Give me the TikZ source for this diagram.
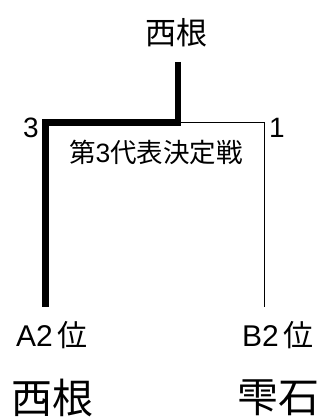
\documentclass[tikz,border=0pt]{standalone}
\usepackage{fontspec}
\setmainfont{Noto Sans CJK JP}
\newfontfamily\latinfont{Liberation Sans}
\usepackage{tikz}

\begin{document}
\begin{tikzpicture}[x=1pt, y=-1pt,
		lbl/.style={inner sep=0pt, font=\fontsize{30}{30}\selectfont},
		team/.style={inner sep=0pt, font=\fontsize{41}{41}\selectfont},
		score/.style={inner sep=0pt, font=\latinfont\fontsize{28}{28}\selectfont},
		win/.style={line width=6.5pt},
		lose/.style={line width=1pt}]
			\useasboundingbox (0,0) rectangle (321,419);
			\node (top) at (176,33) [inner sep=0pt, font=\fontsize{31}{31}\selectfont] {西根};
			\node (title) at (156,152) [inner sep=0pt, font=\fontsize{26.5}{26.5}\selectfont] {第{\latinfont 3}代表決定戦};
			\node (s1) at (31,128) [score] {3};
			\node (s2) at (277,128) [score] {1};
			\node (a) at (52,335) [lbl] {{\latinfont A2}\,位};
			\node (b) at (278,335) [lbl] {{\latinfont B2}\,位};
			\node (ta) at (52,398) [team] {西根};
			\node (tb) at (278,398) [team] {雫石};

			\coordinate (r) at (178,62);
			\coordinate (m) at (178,122.5);
			\coordinate (la) at (45.5,122.5);
			\coordinate (lb) at (264,122.5);
			\coordinate (ea) at (45.5,307);
			\coordinate (eb) at (264,307);

			\draw[lose] (m)--(lb)--(eb);
			\draw[win] (r)--(m)--(la)--(ea);
		\end{tikzpicture}
\end{document}
